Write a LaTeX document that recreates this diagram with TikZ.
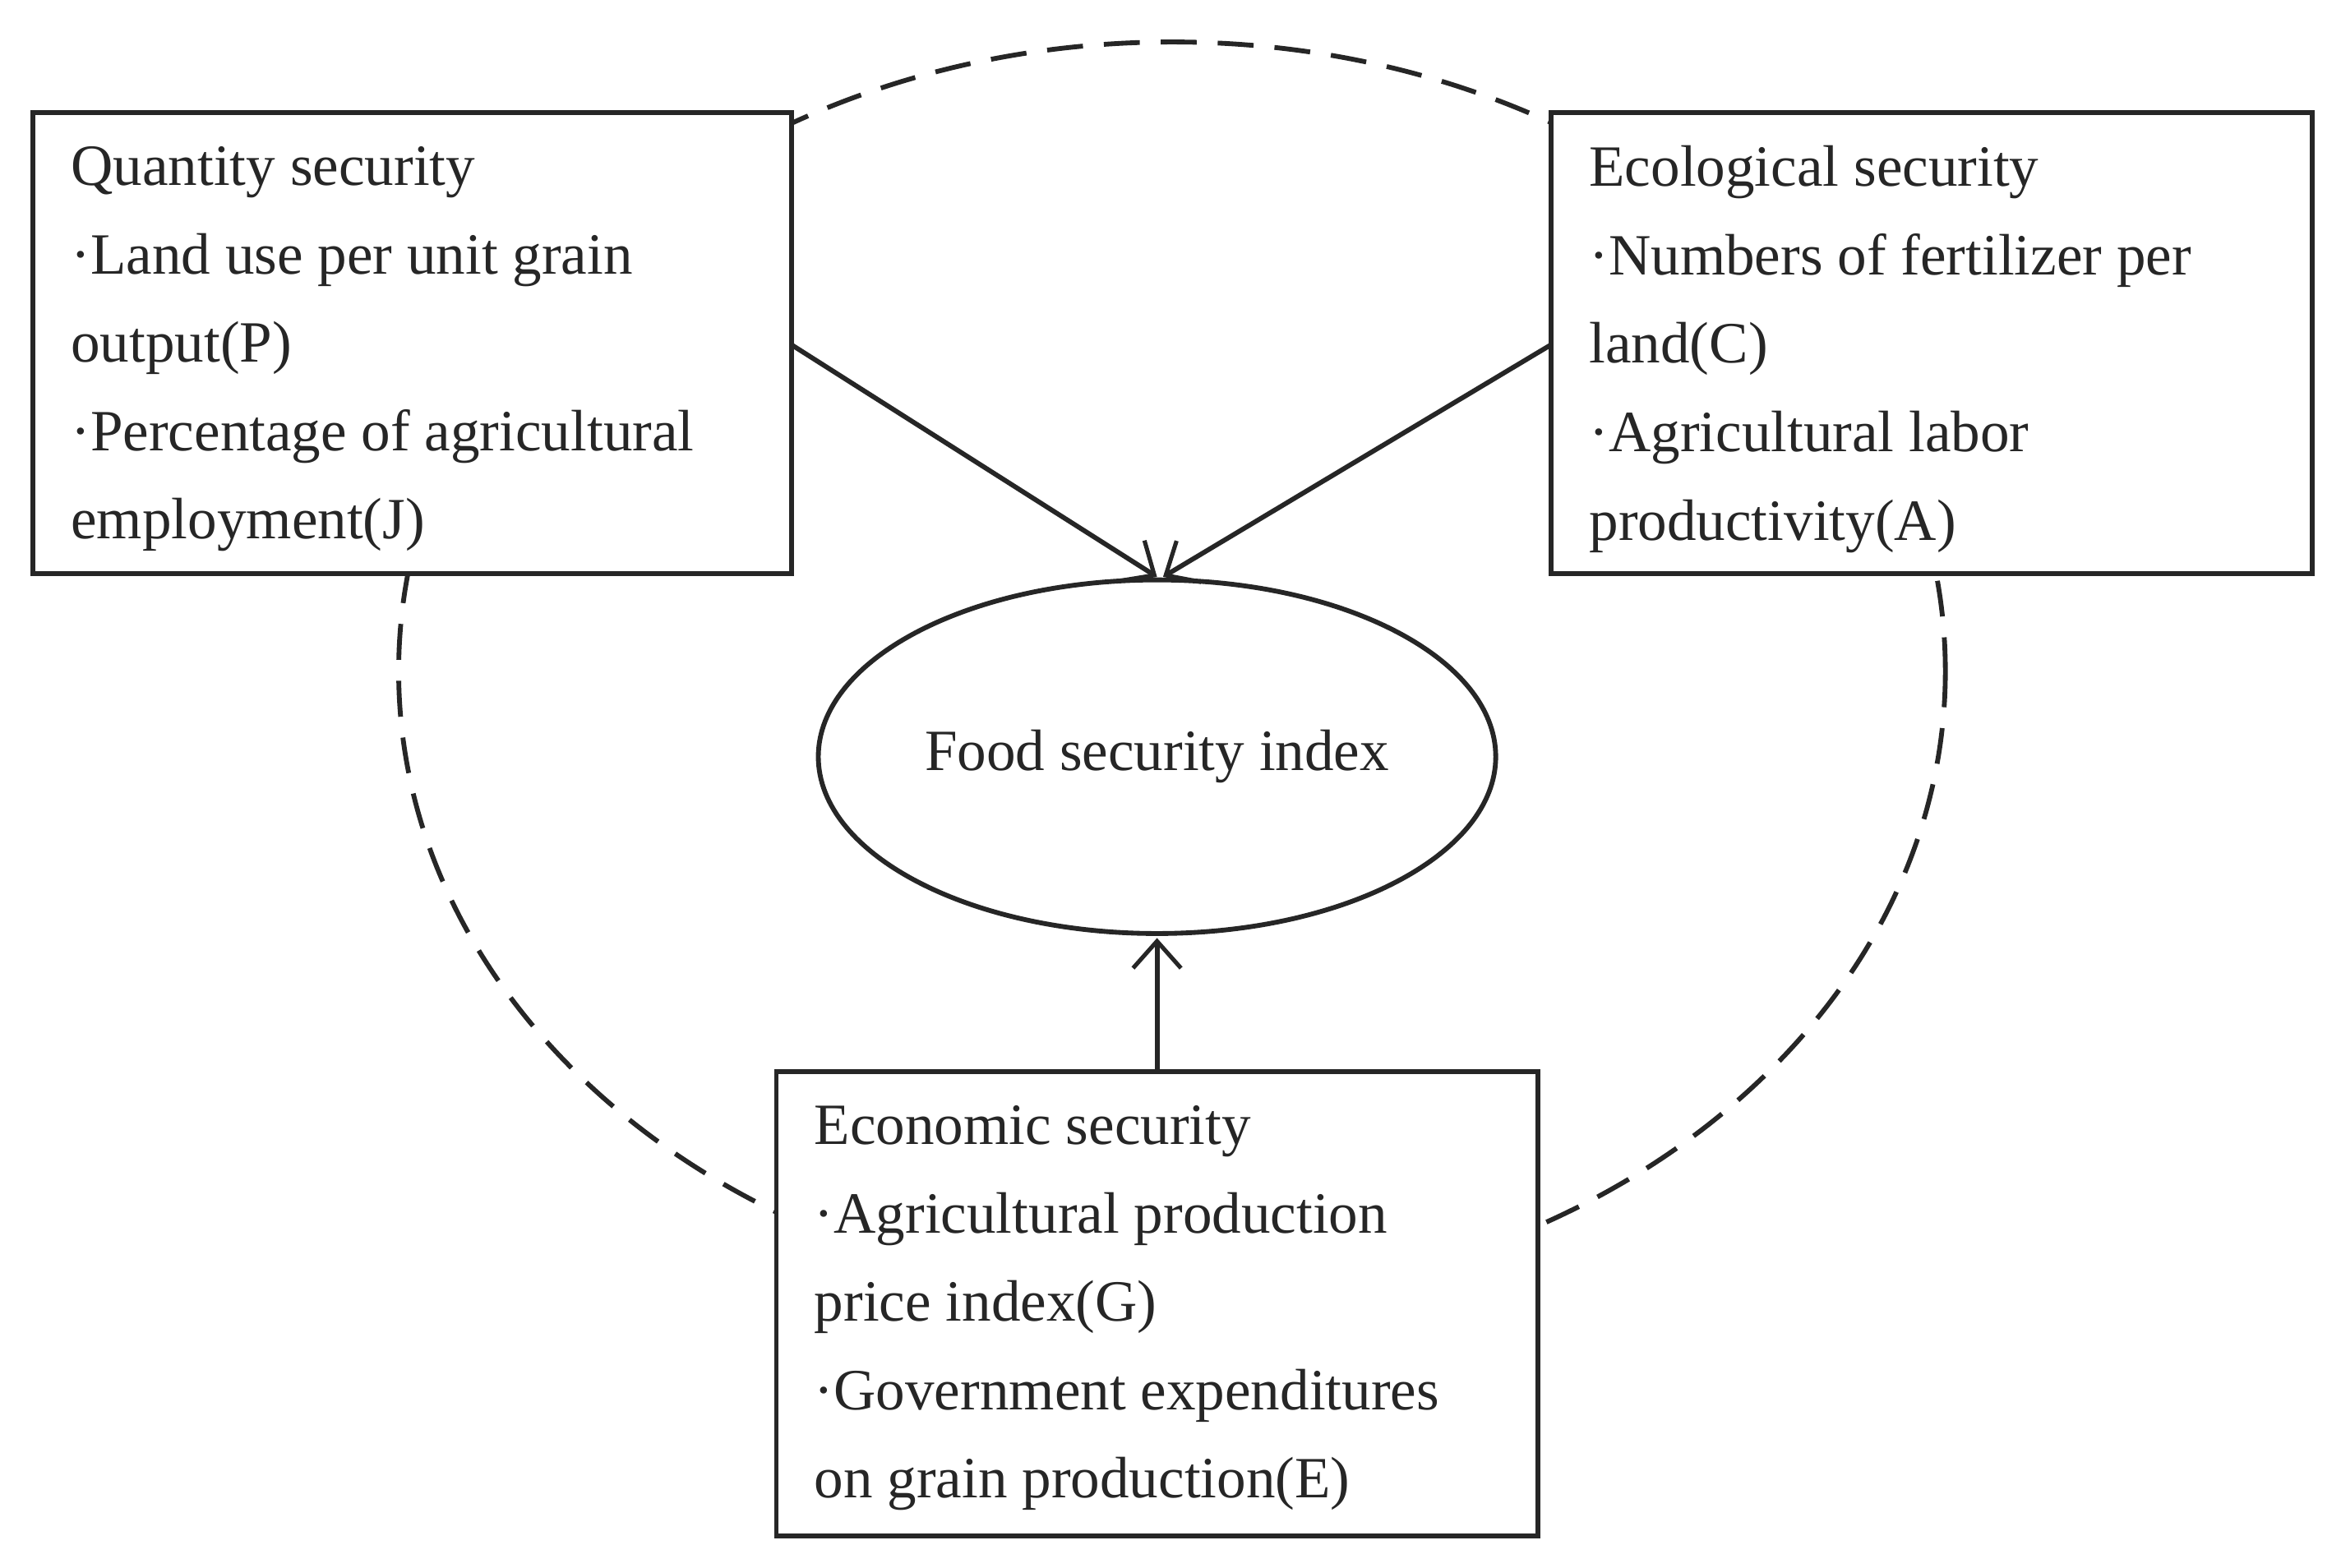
\documentclass[tikz,border=0pt]{standalone}
\usepackage{fontspec}
\setmainfont{Liberation Serif}
\usetikzlibrary{arrows.meta,shapes.geometric}
\begin{document}
\begin{tikzpicture}[x=0.5pt,y=-0.5pt,
  box/.style={draw=black!85,line width=1.6pt,fill=white},
  txt/.style={anchor=west,align=left,font=\fontsize{19.5}{29.5}\selectfont,text=black!85,inner sep=0pt},
  arr/.style={draw=black!85,line width=1.6pt,-{Straight Barb[length=9pt,width=16pt,line width=1.4pt]}}]
\useasboundingbox (0,0) rectangle (1562,1046);
\draw[black!85,line width=1.6pt,dash pattern=on 12pt off 7pt] (782,448) ellipse [x radius=516, y radius=420];
\draw[box] (22,75) rectangle (528,383) coordinate (q);
\draw[box] (1035,75) rectangle (1543,383);
\draw[box] (518,715) rectangle (1026,1025);
\node[txt] (qt) at (47,233) {Quantity security\\·Land use per unit grain\\output(P)\\·Percentage of agricultural\\employment(J)};
\node[txt] (et) at (1060,233) {Ecological security\\·Numbers of fertilizer per\\land(C)\\·Agricultural labor\\productivity(A)};
\node[txt] (ct) at (543,873) {Economic security\\·Agricultural production\\price index(G)\\·Government expenditures\\on grain production(E)};
\node[draw=black!85,line width=1.6pt,fill=white,ellipse,minimum width=226pt,minimum height=118pt,inner sep=0pt,font=\fontsize{19.5}{22}\selectfont,text=black!85] (f) at (772,505) {Food security index};
\coordinate (a1) at (528,230); \coordinate (a1e) at (772,385);
\coordinate (a2) at (1035,230); \coordinate (a2e) at (776,385);
\coordinate (a3) at (772,715); \coordinate (a3e) at (772,626);
\draw[arr] (a1) -- (a1e);
\draw[arr] (a2) -- (a2e);
\draw[arr] (a3) -- (a3e);
\end{tikzpicture}
\end{document}
